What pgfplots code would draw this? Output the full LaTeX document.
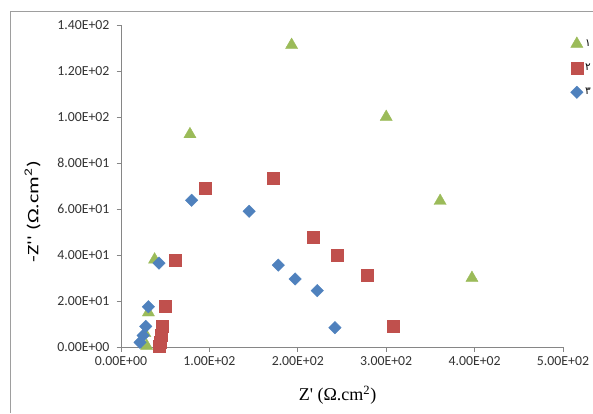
\documentclass[border=0pt]{standalone}
\usepackage{pgfplots}
\pgfplotsset{compat=1.18}
\usepackage{fontspec}
\setmainfont{Carlito}[Ligatures=TeXOff]
\newfontfamily\seriffont{Liberation Serif}
\newfontfamily\arabicfont[Script=Arabic]{DejaVu Sans}
\definecolor{xlgreen}{RGB}{155,187,89}
\definecolor{xlred}{RGB}{192,80,77}
\definecolor{xlblue}{RGB}{79,129,189}
\definecolor{axgray}{RGB}{134,134,134}
\begin{document}
\begin{tikzpicture}[x=1pt,y=1pt]
\path[use as bounding box] (0,0) rectangle (593,413);
\draw[axgray!80,line width=0.8pt] (10.5,0) -- (10.5,402) -- (593,402);
\begin{axis}[
  at={(121pt,66pt)}, anchor=south west,
  scale only axis, width=442pt, height=322pt,
  xmin=0, xmax=500, ymin=0, ymax=140,
  axis x line*=bottom, axis y line*=left,
  axis line style={axgray, line width=0.8pt, -},
  tick align=outside, major tick length=4.5pt,
  tick style={axgray, line width=0.8pt},
  xtick={0,100,200,300,400,500},
  xticklabels={0.00E+00,1.00E+02,2.00E+02,3.00E+02,4.00E+02,5.00E+02},
  ytick={0,20,40,60,80,100,120,140},
  yticklabels={0.00E+00,2.00E+01,4.00E+01,6.00E+01,8.00E+01,1.00E+02,1.20E+02,1.40E+02},
  /pgf/number format/assume math mode=true,
  ticklabel style={font=\fontsize{13.8}{15}\selectfont, text=black!80},
  yticklabel style={xshift=-3.5pt},
  xticklabel style={yshift=-2pt},
  xlabel={\seriffont Z' (Ω.cm\textsuperscript{2})},
  xlabel style={at={(axis description cs:0.49,-0.15)}, anchor=center, font=\fontsize{18}{20}\selectfont},
  ylabel={\scalebox{1.38}[1]{-Z'' (Ω.cm\textsuperscript{2})}},
  ylabel style={at={(axis description cs:-0.2,0.42)}, anchor=center, font=\fontsize{16}{18}\selectfont},
  clip=false,
  legend style={at={(1.01,0.97)}, anchor=north west, draw=none, fill=none,
    font=\arabicfont\fontsize{10.5}{12}\selectfont, row sep=12pt,
    /tikz/every even column/.append style={column sep=2pt}},
  legend cell align=left,
]
\addplot[only marks, mark=triangle*, mark size=7pt, color=xlgreen] coordinates {
(29,0.5) (27,6) (31,15) (38,38) (78,92.5) (193,131.3) (300,100) (361,63.5) (397,30)
};
\addlegendentry{۱}
\addplot[only marks, mark=square*, mark size=6pt, color=xlred] coordinates {
(43,0.5) (44,2) (45,5) (47,9) (50,17.8) (61,37.8) (95,69) (172,73.5) (217,47.8) (245,40) (278,31.3) (308,9.1)
};
\addlegendentry{۲}
\addplot[only marks, mark=square*, mark size=4.4pt, mark options={rotate=45}, color=xlblue] coordinates {
(21.5,2) (25,5) (28,9) (31,17.5) (43,36.5) (80,63.8) (145,59) (178,35.6) (197,29.6) (222,24.5) (242,8.4)
};
\addlegendentry{۳}
\end{axis}
\end{tikzpicture}
\end{document}
